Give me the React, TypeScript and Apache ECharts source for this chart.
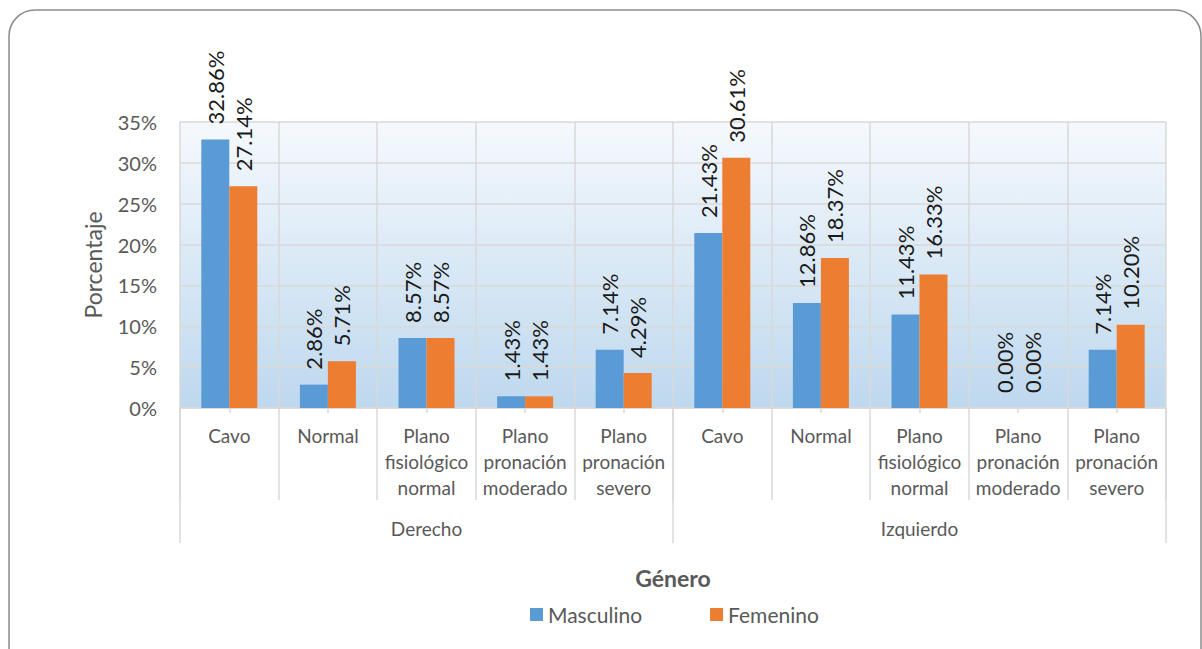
import React, { useEffect, useRef } from "react";
import * as echarts from "echarts";

const subCategories = [
  "Cavo",
  "Normal",
  "Plano\nfisiológico\nnormal",
  "Plano\npronación\nmoderado",
  "Plano\npronación\nsevero",
  "Cavo",
  "Normal",
  "Plano\nfisiológico\nnormal",
  "Plano\npronación\nmoderado",
  "Plano\npronación\nsevero",
];
const groups = ["Derecho", "Izquierdo"];
const masculino = [32.86, 2.86, 8.57, 1.43, 7.14, 21.43, 12.86, 11.43, 0.0, 7.14];
const femenino = [27.14, 5.71, 8.57, 1.43, 4.29, 30.61, 18.37, 16.33, 0.0, 10.2];
const seriesNames = ["Masculino", "Femenino"];
const yTicks = { min: 0, max: 35, interval: 5 };

const FONT = "Lato";
const GRID = "#d9d9d9";
const TXT = "#595959";

export default function App() {
  const ref = useRef<HTMLDivElement>(null);
  useEffect(() => {
    document.body.style.margin = "0";
    const chart = echarts.init(ref.current!, null, { renderer: "svg" });
    const label = {
      show: true,
      position: "top",
      rotate: 90,
      align: "left",
      verticalAlign: "middle",
      distance: 15,
      fontSize: 22,
      fontFamily: FONT,
      color: "#1a1a1a",
      formatter: (p: any) => Number(p.value).toFixed(2) + "%",
    };
    chart.setOption({
      animation: false,
      textStyle: { fontFamily: FONT },
      grid: {
        left: 180,
        right: 36,
        top: 122,
        bottom: 241,
        show: true,
        borderWidth: 0,
        backgroundColor: new echarts.graphic.LinearGradient(0, 0, 0, 1, [
          { offset: 0, color: "#f5f9fd" },
          { offset: 1, color: "#bed8ee" },
        ]),
      },
      legend: {
        data: seriesNames,
        left: 525,
        top: 599,
        icon: "rect",
        itemWidth: 13,
        itemHeight: 13,
        itemGap: 68,
        textStyle: { fontSize: 21, color: TXT, fontFamily: FONT },
      },
      xAxis: [
        {
          type: "category",
          data: subCategories,
          position: "bottom",
          axisLine: { show: true, lineStyle: { color: GRID, width: 1.5 } },
          axisTick: { show: true, alignWithLabel: false, length: 92, lineStyle: { color: GRID, width: 1.5 } },
          splitLine: { show: true, lineStyle: { color: GRID, width: 1.5 } },
          axisLabel: {
            interval: 0,
            margin: 14,
            fontSize: 19,
            lineHeight: 26,
            color: TXT,
            fontFamily: FONT,
            align: "center",
          },
        },
        {
          type: "category",
          data: groups,
          position: "bottom",
          axisLine: { show: false },
          axisTick: { show: true, alignWithLabel: false, length: 135, lineStyle: { color: GRID, width: 1.5 } },
          splitLine: { show: false },
          axisLabel: { interval: 0, margin: 111, fontSize: 19, color: TXT, fontFamily: FONT },
        },
        {
          type: "category",
          data: subCategories,
          position: "bottom",
          axisLine: { show: false },
          axisTick: { show: true, alignWithLabel: true, length: 5, lineStyle: { color: GRID, width: 1.5 } },
          splitLine: { show: false },
          axisLabel: { show: false },
        },
      ],
      yAxis: {
        type: "value",
        min: yTicks.min,
        max: yTicks.max,
        interval: yTicks.interval,
        name: "Porcentaje",
        nameLocation: "middle",
        nameGap: 76,
        nameTextStyle: { fontSize: 23, color: TXT, fontFamily: FONT },
        axisLine: { show: false },
        axisTick: { show: false },
        splitLine: { show: true, lineStyle: { color: GRID, width: 1.5 } },
        axisLabel: { formatter: "{value}%", fontSize: 20, color: TXT, margin: 23, fontFamily: FONT },
      },
      series: [
        {
          name: seriesNames[0],
          type: "bar",
          xAxisIndex: 0,
          data: masculino,
          barWidth: 28,
          barGap: "0%",
          itemStyle: { color: "#5b9bd5" },
          label,
        },
        {
          name: seriesNames[1],
          type: "bar",
          xAxisIndex: 0,
          data: femenino,
          barWidth: 28,
          barGap: "0%",
          itemStyle: { color: "#ed7d31" },
          label,
        },
      ],
      graphic: [
        {
          type: "rect",
          silent: true,
          z: -10,
          shape: { x: 9, y: 10, width: 1192, height: 665, r: 26 },
          style: { fill: "none", stroke: "#8c8c8c", lineWidth: 1.5 },
        },
        {
          type: "text",
          x: 673,
          y: 578,
          silent: true,
          style: {
            text: "Género",
            align: "center",
            verticalAlign: "middle",
            fontSize: 23,
            fontWeight: "bold",
            fontFamily: FONT,
            fill: TXT,
          },
        },
      ],
    });
    return () => chart.dispose();
  }, []);
  return <div ref={ref} style={{ width: 1202, height: 649 }} />;
}
